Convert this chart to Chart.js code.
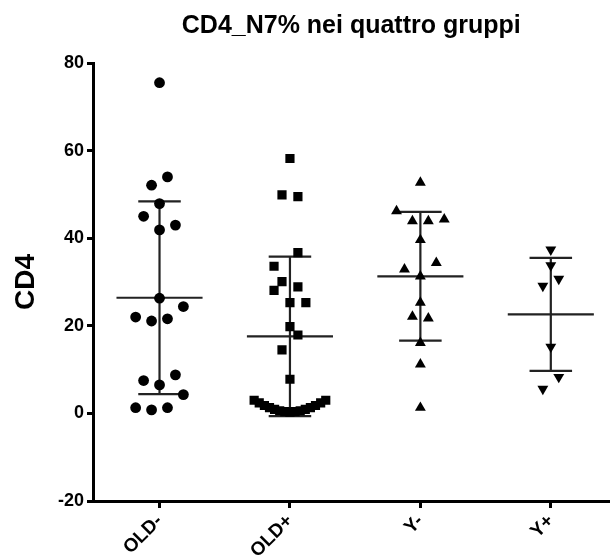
<!DOCTYPE html>
<html>
<head>
<meta charset="utf-8">
<script src="https://cdn.jsdelivr.net/npm/chart.js@4.4.1/dist/chart.umd.min.js"></script>
<style>
  html, body { margin: 0; padding: 0; background: #fff; }
  #wrap { width: 616px; height: 558px; }
</style>
</head>
<body>
<div id="wrap"><canvas id="chart" width="616" height="558"></canvas></div>
<script>
// ==========================================
// CD4_N7% dot plot
// ==========================================

const groups = ['OLD-', 'OLD+', 'Y-', 'Y+'];
const yTicks = [-20, 0, 20, 40, 60, 80];

// values per group, and the column slot each dot sits in (beeswarm spread)
const oldNegValues = [75.5, 54.0, 52.1, 47.9, 45.0, 43.0, 41.9, 26.3, 24.4, 22.0, 21.1, 21.6, 8.8, 7.5, 6.5, 4.3, 1.3, 0.8, 1.3];
const oldNegSlots  = [0, 1, -1, 0, -2, 2, 0, 0, 3, -3, -1, 1, 2, -2, 0, 3, -3, -1, 1];

const oldPosValues = [58.2, 49.9, 49.5, 36.7, 33.6, 30.1, 28.9, 28.1, 25.3, 25.3, 19.8, 17.9, 14.5, 7.8,
                      3.0, 2.4, 1.8, 1.3, 0.9, 0.6, 0.4, 0.3, 0.4, 0.6, 0.9, 1.3, 1.8, 2.4, 3.0];
const oldPosSlots  = [0, -1, 1, 1, -2, -1, 1, -2, 0, 2, 0, 1, -1, 0,
                      -4.5, -3.86, -3.21, -2.57, -1.93, -1.29, -0.64, 0, 0.64, 1.29, 1.93, 2.57, 3.21, 3.86, 4.5];

const yNegValues = [52.7, 46.2, 43.9, 43.9, 44.3, 39.6, 34.4, 32.9, 31.3, 25.3, 22.1, 21.7, 16.1, 11.2, 1.3];
const yNegSlots  = [0, -3, -1, 1, 3, 0, 2, -2, 0, 0, -1, 1, 0, 0, 0];

const yPosValues = [37.4, 33.8, 30.7, 29.1, 15.2, 8.3, 5.6];
const yPosSlots  = [0, 0, 1, -1, 0, 1, -1];

// mean and SD bars
const groupMeans = [26.4, 17.6, 31.3, 22.6];
const groupSD    = [22.0, 18.2, 14.7, 12.9];

// ==========================================

const FONT = "'Liberation Sans', Arial, sans-serif";
const SLOT = 0.061;          // one dot width, in category units
const MEAN_HALF = 0.33;      // half width of the mean line
const CAP_HALF = 0.163;      // half width of the SD caps

Chart.defaults.font.family = FONT;
Chart.defaults.color = '#000';

function toPoints(values, slots, groupIndex) {
    return values.map((v, i) => ({ x: groupIndex + slots[i] * SLOT, y: v }));
}

const errorBars = {
    id: 'errorBars',
    beforeDatasetsDraw(chart) {
        const { ctx, scales: { x, y } } = chart;
        ctx.save();
        ctx.strokeStyle = '#222';
        ctx.lineWidth = 2.2;
        groupMeans.forEach((m, i) => {
            const cx = x.getPixelForValue(i);
            const my = y.getPixelForValue(m);
            const top = y.getPixelForValue(m + groupSD[i]);
            const bot = y.getPixelForValue(m - groupSD[i]);
            const mh = x.getPixelForValue(i + MEAN_HALF) - cx;
            const ch = x.getPixelForValue(i + CAP_HALF) - cx;
            ctx.beginPath();
            ctx.moveTo(cx, top); ctx.lineTo(cx, bot);
            ctx.moveTo(cx - mh, my); ctx.lineTo(cx + mh, my);
            ctx.moveTo(cx - ch, top); ctx.lineTo(cx + ch, top);
            ctx.moveTo(cx - ch, bot); ctx.lineTo(cx + ch, bot);
            ctx.stroke();
        });
        ctx.restore();
    }
};

const dotStyle = { backgroundColor: '#000', borderColor: '#000', borderWidth: 0, pointHoverRadius: 6 };

new Chart(document.getElementById('chart'), {
    type: 'scatter',
    data: {
        datasets: [
            { label: groups[0], data: toPoints(oldNegValues, oldNegSlots, 0), pointStyle: 'circle', pointRadius: 5.4, ...dotStyle },
            { label: groups[1], data: toPoints(oldPosValues, oldPosSlots, 1), pointStyle: 'rect', pointRadius: 6.5, ...dotStyle },
            { label: groups[2], data: toPoints(yNegValues, yNegSlots, 2), pointStyle: 'triangle', pointRadius: 6.3, ...dotStyle },
            { label: groups[3], data: toPoints(yPosValues, yPosSlots, 3), pointStyle: 'triangle', pointRotation: 180, pointRadius: 6.3, ...dotStyle },
        ]
    },
    options: {
        responsive: false,
        animation: false,
        layout: { padding: 0 },
        plugins: {
            legend: { display: false },
            tooltip: { enabled: false },
            title: {
                display: true,
                text: 'CD4_N7% nei quattro gruppi',
                fullSize: false,
                color: '#000',
                font: { size: 25, weight: 'bold', family: FONT },
                padding: { top: 11, bottom: 22 }
            }
        },
        scales: {
            x: {
                type: 'linear',
                min: -0.51, max: 3.45,
                afterBuildTicks: s => { s.ticks = groups.map((_, i) => ({ value: i })); },
                afterFit: s => { s.height = 57; },
                ticks: {
                    callback: (v, i) => groups[i],
                    minRotation: 45, maxRotation: 45, autoSkip: false,
                    color: '#000', padding: 2,
                    font: { size: 19, weight: 'bold' }
                },
                grid: { drawOnChartArea: false, tickLength: 7, tickWidth: 3, tickColor: '#000' },
                border: { display: true, color: '#000', width: 3 }
            },
            y: {
                min: -20, max: 80,
                afterBuildTicks: s => { s.ticks = yTicks.map(v => ({ value: v })); },
                afterFit: s => { s.width = 93; },
                ticks: { color: '#000', padding: 3, font: { size: 18, weight: 'bold' } },
                grid: { drawOnChartArea: false, tickLength: 6, tickWidth: 3, tickColor: '#000' },
                border: { display: true, color: '#000', width: 3 },
                title: {
                    display: true, text: 'CD4', color: '#000',
                    font: { size: 28, weight: 'bold' },
                    padding: { top: 9, bottom: 0 }
                }
            }
        }
    },
    plugins: [errorBars]
});
</script>
</body>
</html>
